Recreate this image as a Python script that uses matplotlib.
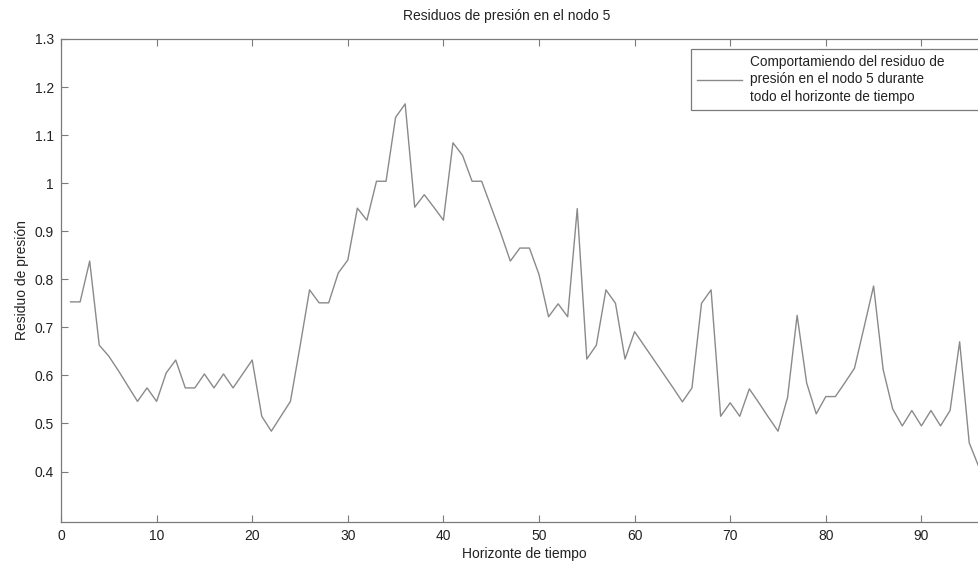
import matplotlib.pyplot as plt
import numpy as np

plt.rcParams['font.family'] = ['Liberation Sans', 'DejaVu Sans']

# residuo de presion nodo 5 (x = 1..97)
tiempo = np.arange(1, 98)
residuo = [
    0.753, 0.753, 0.838, 0.663, 0.640, 0.610, 0.578, 0.546, 0.574, 0.546,
    0.605, 0.632, 0.574, 0.574, 0.603, 0.574, 0.603, 0.574, 0.603, 0.632,
    0.515, 0.484, 0.515, 0.546, 0.660, 0.778, 0.751, 0.751, 0.813, 0.840,
    0.948, 0.923, 1.004, 1.004, 1.137, 1.165, 0.950, 0.976, 0.950, 0.923,
    1.084, 1.058, 1.004, 1.004, 0.950, 0.896, 0.838, 0.865, 0.865, 0.810,
    0.722, 0.749, 0.722, 0.947, 0.634, 0.663, 0.778, 0.750, 0.634, 0.691,
    0.662, 0.633, 0.604, 0.575, 0.545, 0.574, 0.750, 0.778, 0.515, 0.543,
    0.515, 0.572, 0.543, 0.513, 0.484, 0.554, 0.725, 0.584, 0.520, 0.556,
    0.556, 0.585, 0.615, 0.700, 0.786, 0.612, 0.530, 0.495, 0.527, 0.495,
    0.527, 0.495, 0.527, 0.670, 0.460, 0.410, 0.360,
]

xticks = np.arange(0, 91, 10)
yticks = [0.4, 0.5, 0.6, 0.7, 0.8, 0.9, 1.0, 1.1, 1.2, 1.3]
ytick_labels = ['0.4', '0.5', '0.6', '0.7', '0.8', '0.9', '1', '1.1', '1.2', '1.3']

gris = '#7a7a7a'
texto = '#222222'

fig = plt.figure(figsize=(9.79, 5.62), dpi=100)
# the axes run past the right border (the scan is cropped there)
ax = fig.add_axes([61 / 979, 1 - 522 / 562, 956 / 979, 483 / 562])

ax.plot(tiempo, residuo, color='#8a8a8a', linewidth=1.0,
        label='Comportamiendo del residuo de\npresión en el nodo 5 durante\ntodo el horizonte de tiempo')

ax.set_xlim(0, 100)
ax.set_ylim(0.295, 1.3)
ax.set_xticks(xticks)
ax.set_xticklabels([str(t) for t in xticks])
ax.set_yticks(yticks)
ax.set_yticklabels(ytick_labels)

for s in ax.spines.values():
    s.set_color(gris)
    s.set_linewidth(0.9)
ax.tick_params(direction='in', length=5, width=0.8, color=gris,
               top=True, right=True, labelsize=10, labelcolor=texto, pad=5)

ax.set_title('Residuos de presión en el nodo 5', fontsize=10, color=texto,
             x=0.466, pad=14)
ax.set_xlabel('Horizonte de tiempo', fontsize=10, color=texto)
ax.xaxis.set_label_coords(0.485, -0.052)
ax.set_ylabel('Residuo de presión', fontsize=10, color=texto, labelpad=4)

# legend frame also runs past the right border
leg = ax.legend(loc='upper left', bbox_to_anchor=(691 / 979, 0, 0.35, 1 - 49 / 562),
                bbox_transform=fig.transFigure, mode='expand', fontsize=9.8,
                frameon=True, fancybox=False, edgecolor=gris, framealpha=1,
                handlelength=3.3, handletextpad=0.55, borderpad=0.45,
                borderaxespad=0)
leg.get_frame().set_linewidth(0.9)
for t in leg.get_texts():
    t.set_color(texto)
    t.set_linespacing(1.3)

fig.savefig('out.png', dpi=100)
